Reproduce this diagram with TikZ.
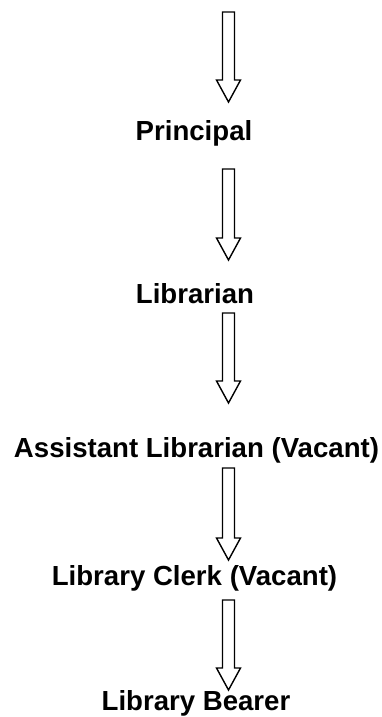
\documentclass[tikz,border=0pt]{standalone}
\usepackage{fontspec}
\setmainfont{Liberation Sans}
\usetikzlibrary{calc}
\tikzset{
  title/.style={anchor=base, inner sep=0pt, font=\fontsize{27.6}{32}\selectfont\bfseries},
  blockarrow/.style={draw=black, line width=1.4pt, fill=white, line join=miter}
}
\newcommand\blockarrowpath[2]{%
  \draw[blockarrow] ($(#1)+(-6,0)$) -- ($(#2)+(-6,22)$) -- ($(#2)+(-12,22)$) -- (#2)
    -- ($(#2)+(12,22)$) -- ($(#2)+(6,22)$) -- ($(#1)+(6,0)$) -- cycle;}
\begin{document}
\begin{tikzpicture}[x=1pt,y=1pt]
\useasboundingbox (0,0) rectangle (382,-717);
\node[title] (principal) at (194,-140) {Principal};
\node[title] (librarian) at (195,-303) {Librarian};
\node[title] (assistant) at (196.5,-457) {Assistant Librarian (Vacant)};
\node[title] (clerk) at (194.5,-585) {Library Clerk (Vacant)};
\node[title] (bearer) at (196,-710) {Library Bearer};
\coordinate (a1s) at (228.5,-12);   \coordinate (a1e) at (228.5,-102);
\coordinate (a2s) at (228.5,-169);  \coordinate (a2e) at (228.5,-260);
\coordinate (a3s) at (228.5,-313);  \coordinate (a3e) at (228.5,-403);
\coordinate (a4s) at (228.5,-468);  \coordinate (a4e) at (228.5,-560);
\coordinate (a5s) at (228.5,-600);  \coordinate (a5e) at (228.5,-690);
\blockarrowpath{a1s}{a1e}
\blockarrowpath{a2s}{a2e}
\blockarrowpath{a3s}{a3e}
\blockarrowpath{a4s}{a4e}
\blockarrowpath{a5s}{a5e}
\end{tikzpicture}
\end{document}
